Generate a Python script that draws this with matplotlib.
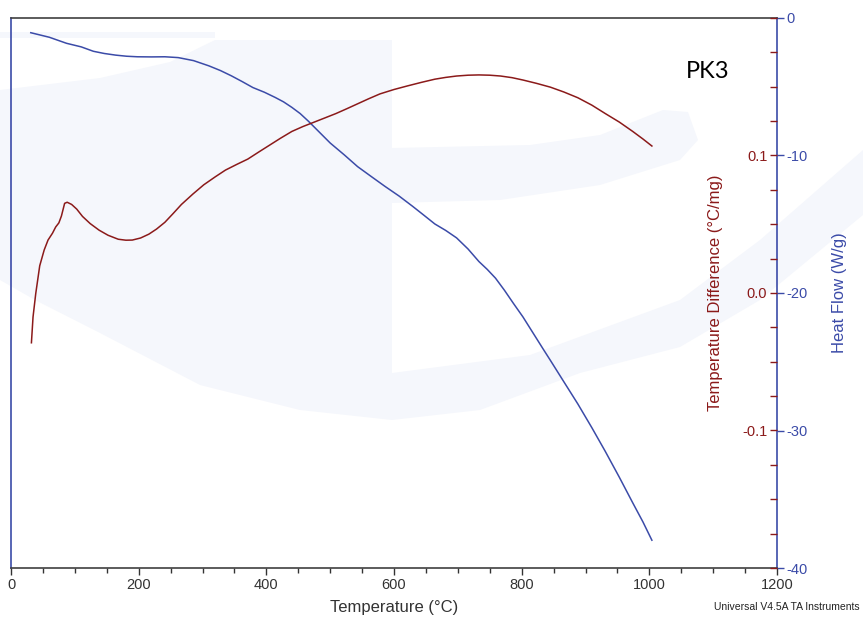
import matplotlib
matplotlib.use("Agg")
import matplotlib.pyplot as plt
from matplotlib.patches import Polygon
from matplotlib.ticker import MultipleLocator

# --- data (TGA/DTA run, sample PK3) ---
temp_red = [32, 34.5, 38.8, 45, 52, 58, 65, 70, 75, 79, 84, 88, 95, 103, 112,
            124, 138, 152, 168, 180, 190, 203, 216, 228, 241, 254, 267, 285,
            302, 320, 336, 354, 371, 388, 405, 422, 440, 457, 474, 491, 509,
            526, 543, 560, 578, 600, 621, 643, 664, 681, 698, 716, 733, 750,
            767, 785, 802, 823, 845, 866, 888, 910, 931, 953, 974, 990, 1004]
delta_t = [-0.0362, -0.0175, -0.0003, 0.0198, 0.0313, 0.0385, 0.0435, 0.0480,
           0.0510, 0.0560, 0.0652, 0.0660, 0.0644, 0.0610, 0.0557, 0.0505,
           0.0457, 0.0420, 0.0391, 0.0384, 0.0385, 0.0400, 0.0428, 0.0465,
           0.0514, 0.0578, 0.0644, 0.0720, 0.0787, 0.0845, 0.0894, 0.0936,
           0.0974, 0.1025, 0.1075, 0.1125, 0.1175, 0.1210, 0.1241, 0.1272,
           0.1305, 0.1340, 0.1376, 0.1412, 0.1448, 0.1480, 0.1506, 0.1532,
           0.1555, 0.1568, 0.1578, 0.1584, 0.1586, 0.1584, 0.1578, 0.1566,
           0.1549, 0.1525, 0.1497, 0.1462, 0.1420, 0.1366, 0.1305, 0.1243,
           0.1175, 0.1120, 0.1069]

temp_blue = [31, 60, 87, 110, 129, 146, 164, 181, 198, 220, 241, 262, 286, 310,
             328, 345, 362, 379, 397, 414, 427, 440, 453, 466, 483, 500, 522,
             543, 565, 586, 608, 629, 647, 664, 681, 698, 716, 733, 746, 759,
             773, 787, 802, 818, 834, 845, 866, 888, 910, 931, 953, 974, 990,
             1004]
heat_flow = [-1.07, -1.40, -1.84, -2.10, -2.42, -2.58, -2.70, -2.78, -2.82,
             -2.83, -2.82, -2.88, -3.10, -3.48, -3.82, -4.20, -4.62, -5.06,
             -5.40, -5.78, -6.10, -6.50, -6.95, -7.51, -8.30, -9.09, -9.95,
             -10.81, -11.55, -12.25, -12.95, -13.69, -14.35, -14.98, -15.45,
             -15.99, -16.80, -17.71, -18.28, -18.92, -19.80, -20.75, -21.74,
             -22.92, -24.10, -24.90, -26.45, -28.07, -29.80, -31.52, -33.40,
             -35.26, -36.65, -37.98]

temp_ticks = [0, 200, 400, 600, 800, 1000, 1200]
dt_ticks = [-0.1, 0.0, 0.1]
hf_ticks = [0, -10, -20, -30, -40]

RED = "#8b1a1a"
BLUE = "#3b4ba8"
INK = "#333333"
TINT = "#f5f7fc"

plt.rcParams["font.family"] = ["Liberation Sans", "DejaVu Sans"]
plt.rcParams["axes.unicode_minus"] = False  # the instrument software prints a plain hyphen

fig = plt.figure(figsize=(8.63, 6.21), dpi=100)

# faint instrument-software watermark behind the plot (pixel coords, y down)
bg = fig.add_axes([0, 0, 1, 1], zorder=0)
bg.set_xlim(0, 863)
bg.set_ylim(621, 0)
bg.axis("off")
left_block = [(215, 40), (392, 40), (392, 420), (300, 410), (200, 385),
              (100, 333), (35, 300), (0, 280), (0, 90), (100, 78), (170, 62)]
top_band = [(215, 32), (215, 38), (0, 38), (0, 32)]
mid_band = [(392, 148), (530, 145), (600, 135), (663, 110), (688, 112),
            (698, 140), (680, 160), (600, 185), (500, 200), (392, 203)]
arc_band = [(392, 373), (530, 355), (680, 300), (760, 240), (863, 150),
            (863, 215), (760, 300), (680, 347), (580, 373), (480, 410),
            (392, 420)]
for shape in (left_block, top_band, mid_band, arc_band):
    bg.add_patch(Polygon(shape, closed=True, color=TINT, lw=0))

ax = fig.add_axes([11 / 863, 1 - 568 / 621, 766 / 863, 550 / 621], zorder=1)
ax.patch.set_visible(False)
ax.plot(temp_blue, heat_flow, color=BLUE, lw=1.1)
ax.set_xlim(0, 1200)
ax.set_ylim(-40, 0)

# temperature-difference axis: ticks and labels on the inner side of the right spine
axr = ax.twinx()
axr.patch.set_visible(False)
axr.plot(temp_red, delta_t, color=RED, lw=1.1)
axr.set_ylim(-0.2, 0.2)
for side in ("top", "bottom", "right", "left"):
    axr.spines[side].set_visible(False)
axr.spines["left"].set_position(("axes", 1.0))
axr.yaxis.set_ticks_position("left")
axr.yaxis.set_label_position("left")
axr.set_yticks(dt_ticks)
axr.set_yticklabels([f"{v:.1f}" for v in dt_ticks])
axr.yaxis.set_minor_locator(MultipleLocator(0.025))
axr.tick_params(axis="y", which="major", direction="out", length=5, width=1,
                color=RED, labelcolor=RED, labelsize=10.5, pad=2)
axr.tick_params(axis="y", which="minor", direction="out", length=5, width=1,
                color=RED)
axr.set_ylabel("Temperature Difference (°C/mg)", color=RED, fontsize=12,
               labelpad=14)

# heat flow axis (twinx flips the host ticks back to the left, so set after it)
ax.yaxis.tick_right()
ax.yaxis.set_label_position("right")
ax.set_yticks(hf_ticks)
ax.tick_params(axis="y", which="major", direction="out", length=5, width=1,
               color=BLUE, labelcolor=BLUE, labelsize=10.5, pad=2)
ax.tick_params(axis="y", which="minor", left=False, right=False)
ax.set_ylabel("Heat Flow (W/g)", color=BLUE, fontsize=12, labelpad=17)

ax.set_xticks(temp_ticks)
ax.xaxis.set_minor_locator(MultipleLocator(50))
ax.tick_params(axis="x", which="major", direction="out", length=5, width=1,
               color=INK, labelcolor=INK, labelsize=10.5, pad=2)
ax.tick_params(axis="x", which="minor", direction="out", length=3.5, width=1,
               color=INK)
ax.set_xlabel("Temperature (°C)", fontsize=12, color=INK, labelpad=6)

for side in ("left", "right"):
    ax.spines[side].set_color(BLUE)
    ax.spines[side].set_linewidth(1.2)
for side in ("top", "bottom"):
    ax.spines[side].set_color("#404040")
    ax.spines[side].set_linewidth(1.2)

fig.text(708 / 863, 1 - 72 / 621, "PK3", fontsize=17, family=["Lato", "DejaVu Sans"],
         color="black", ha="center", va="center")
fig.text(860 / 863, 1 - 607 / 621, "Universal V4.5A TA Instruments", fontsize=7.5,
         color="#222222", ha="right", va="center")

fig.savefig("out.png", dpi=100)
